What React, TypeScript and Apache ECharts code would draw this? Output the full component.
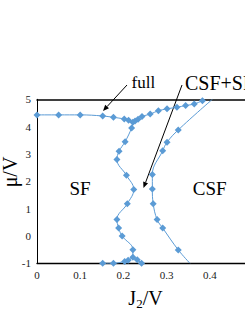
import React, { useEffect, useRef } from "react";
import * as echarts from "echarts";

// J2/V tick labels and mu/V tick labels come from axes
const xTicks = [0, 0.1, 0.2, 0.3, 0.4, 0.5];
const yTicks = [-1, 0, 1, 2, 3, 4, 5];

// "full" boundary (upper line)
const fullLine: number[][] = [
  [0, 4.43], [0.05, 4.43], [0.1, 4.43], [0.152, 4.39], [0.177, 4.34],
  [0.202, 4.28], [0.212, 4.23], [0.222, 4.16], [0.227, 4.21], [0.234, 4.27],
  [0.243, 4.37], [0.262, 4.46], [0.281, 4.58], [0.301, 4.65], [0.324, 4.71],
  [0.344, 4.77], [0.364, 4.83], [0.383, 4.95],
];

// SF / CSF+SF boundary (left curve)
const sfBoundary: number[][] = [
  [0.222, 4.16], [0.219, 3.95], [0.204, 3.45], [0.19, 3.1], [0.185, 2.8],
  [0.207, 2.22], [0.224, 1.7], [0.209, 1.18], [0.185, 0.6], [0.189, 0.29],
  [0.197, 0.0], [0.222, -0.5], [0.222, -0.78], [0.232, -0.87], [0.242, -1.0],
];

// lower branch
const lowBranch: number[][] = [
  [0.152, -1.0], [0.177, -1.0], [0.203, -0.93], [0.211, -0.89], [0.222, -0.78],
];

// CSF+SF / CSF boundary (right curve)
const csfBoundary: number[][] = [
  [0.354, -1.0], [0.327, -0.51], [0.291, 0.29], [0.278, 0.6], [0.269, 1.18],
  [0.267, 1.72], [0.267, 2.25], [0.291, 3.12], [0.301, 3.43], [0.327, 3.88],
  [0.406, 5.0],
];
const csfNoMarker = [0, 10];

const BLUE = "#5b9bd5";
const FONT = "Liberation Serif";

function arrow(x1: number, y1: number, x2: number, y2: number) {
  const dx = x2 - x1, dy = y2 - y1;
  const len = Math.hypot(dx, dy);
  const ux = dx / len, uy = dy / len;
  const hl = 6, hw = 2.6;
  const bx = x2 - ux * hl, by = y2 - uy * hl;
  const nx = -uy, ny = ux;
  return [
    { type: "line", shape: { x1, y1, x2: bx, y2: by }, style: { stroke: "#000", lineWidth: 1 } },
    {
      type: "polygon",
      shape: { points: [[x2, y2], [bx + nx * hw, by + ny * hw], [bx - nx * hw, by - ny * hw]] },
      style: { fill: "#000" },
    },
  ];
}

export default function App() {
  const ref = useRef<HTMLDivElement>(null);
  useEffect(() => {
    if (!ref.current) return;
    const chart = echarts.init(ref.current, null, { renderer: "svg" });
    const lineSeries = (name: string, data: number[][], noMarker: number[] = []) => ({
      name,
      type: "line",
      smooth: 0.4,
      data: data.map((p, i) =>
        noMarker.includes(i) ? { value: p, symbol: "none" } : { value: p }
      ),
      symbol: "diamond",
      symbolSize: 7,
      itemStyle: { color: BLUE },
      lineStyle: { color: BLUE, width: 1 },
      z: 3,
    });
    chart.setOption({
      animation: false,
      backgroundColor: "#fff",
      grid: { left: 37, top: 99.3, width: 216, height: 164 },
      xAxis: [
        {
          type: "value",
          min: xTicks[0],
          max: xTicks[xTicks.length - 1],
          interval: 0.1,
          axisLine: { onZero: false, lineStyle: { color: "#000", width: 1.3 } },
          axisTick: { show: false },
          splitLine: { show: false },
          axisLabel: {
            fontFamily: FONT,
            fontSize: 11,
            color: "#222",
            margin: 6,
            showMaxLabel: false,
            formatter: (v: number) => (v === 0 ? "0" : v.toFixed(1)),
          },
        },
        {
          type: "value",
          position: "top",
          min: xTicks[0],
          max: xTicks[xTicks.length - 1],
          axisLine: { show: true, onZero: false, lineStyle: { color: "#000", width: 1.5 } },
          axisTick: { show: false },
          axisLabel: { show: false },
          splitLine: { show: false },
        },
      ],
      yAxis: {
        type: "value",
        min: yTicks[0],
        max: yTicks[yTicks.length - 1],
        interval: 1,
        axisLine: { show: true, onZero: false, lineStyle: { color: "#000", width: 1 } },
        axisTick: { show: false },
        splitLine: { show: false },
        axisLabel: { fontFamily: FONT, fontSize: 11, color: "#222", margin: 6 },
      },
      series: [
        lineSeries("full", fullLine),
        lineSeries("SF boundary", sfBoundary, [0]),
        lineSeries("lower branch", lowBranch, [4]),
        lineSeries("CSF boundary", csfBoundary, csfNoMarker),
      ],
      graphic: [
        {
          type: "text",
          x: 145.5,
          y: 298,
          style: {
            text: "{a|J}{b|2}{a|/V}",
            align: "center",
            verticalAlign: "middle",
            rich: {
              a: { fontFamily: FONT, fontSize: 20, fill: "#000", lineHeight: 22 },
              b: { fontFamily: FONT, fontSize: 13, fill: "#000", padding: [10, 0, 0, 0], lineHeight: 22 },
            },
          },
        },
        {
          type: "text",
          x: 10,
          y: 172,
          rotation: Math.PI / 2,
          style: {
            text: "μ/V",
            fontFamily: FONT,
            fontSize: 20,
            fill: "#000",
            align: "center",
            verticalAlign: "middle",
          },
        },
        {
          type: "text", x: 131.5, y: 82.6,
          style: { text: "full", fontFamily: FONT, fontSize: 17, fill: "#000", align: "left", verticalAlign: "middle" },
        },
        {
          type: "text", x: 185, y: 82.5,
          style: { text: "CSF+SF", fontFamily: FONT, fontSize: 20, fill: "#000", align: "left", verticalAlign: "middle" },
        },
        {
          type: "text", x: 80, y: 188.6,
          style: { text: "SF", fontFamily: FONT, fontSize: 19, fill: "#000", align: "center", verticalAlign: "middle" },
        },
        {
          type: "text", x: 209.7, y: 188.6,
          style: { text: "CSF", fontFamily: FONT, fontSize: 19, fill: "#000", align: "center", verticalAlign: "middle" },
        },
        ...arrow(127, 85, 103, 111),
        ...arrow(182, 85, 143.5, 188),
      ],
    });
    return () => chart.dispose();
  }, []);
  return (
    <div
      ref={ref}
      style={{ position: "fixed", left: 0, top: 0, width: 270, height: 317 }}
    />
  );
}
